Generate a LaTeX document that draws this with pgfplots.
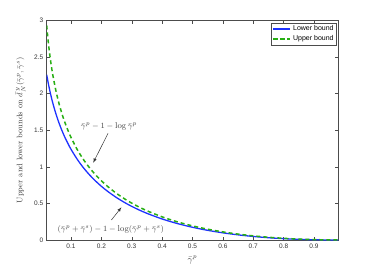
\documentclass[border=0pt]{standalone}
\usepackage{fontspec}
\setsansfont{Liberation Sans}
\usepackage{amsmath}
\usepackage{pgfplots}
\pgfplotsset{compat=1.18}
\definecolor{mblue}{RGB}{30,50,255}
\definecolor{mgreen}{RGB}{40,175,20}
\begin{document}
\begin{tikzpicture}[x=1pt,y=1pt]
\path[use as bounding box] (0,0) rectangle (374,271);
\begin{axis}[
  at={(46.7pt,31pt)}, anchor=south west,
  scale only axis, width=291.6pt, height=219.5pt,
  xmin=0.02, xmax=0.98, ymin=0, ymax=3,
  xtick={0.1,0.2,...,0.9},
  xticklabels={0.1,0.2,0.3,0.4,0.5,0.6,0.7,0.8,0.9},
  ytick={0,0.5,1,1.5,2,2.5,3},
  yticklabels={0,0.5,1,1.5,2,2.5,3},
  tick align=inside, tick pos=both,
  major tick length=3pt,
  axis line style={black!70, line width=0.5pt},
  every tick/.style={black!70, line width=0.4pt},
  ticklabel style={font=\sffamily\fontsize{6.5}{7}\selectfont, text=black!80},
  xlabel={$\bar\gamma^p$},
  ylabel={Upper and lower bounds on $\bar d^{\,y}_N(\bar\gamma^p,\bar\gamma^s)$},
  xlabel style={font=\fontsize{9}{10}\selectfont, text=black!75, yshift=-1pt},
  ylabel style={font=\fontsize{8}{9}\selectfont, text=black!75, yshift=2pt},
  legend style={at={(0.995,0.99)}, anchor=north east, font=\sffamily\fontsize{7}{8}\selectfont,
    draw=black!70, line width=0.4pt, inner sep=1pt, row sep=-1pt,
    legend cell align=left},
  legend image post style={line width=1.5pt},
  clip=true,
]
\addplot[mblue, line width=1.3pt, smooth] coordinates {
(0.02,2.25888)(0.025,2.14609)(0.03,2.04573)(0.035,1.95542)(0.04,1.87341)
(0.05,1.72926)(0.06,1.60573)(0.07,1.49795)(0.08,1.40259)(0.09,1.31727)
(0.10,1.24026)(0.12,1.10611)(0.14,0.99258)(0.16,0.89480)(0.18,0.80944)
(0.20,0.73413)(0.22,0.66712)(0.25,0.57933)(0.28,0.50397)(0.30,0.45943)
(0.32,0.41881)(0.35,0.36425)(0.40,0.28750)(0.45,0.22502)(0.50,0.17393)
(0.55,0.13212)(0.60,0.09804)(0.65,0.07048)(0.70,0.04850)(0.75,0.03136)
(0.80,0.01845)(0.85,0.00926)(0.90,0.00338)(0.95,0.00046)(0.98,0.0)
};
\addlegendentry{Lower bound}
\addplot[mgreen, line width=1.5pt, dash pattern=on 4pt off 3pt, smooth] coordinates {
(0.02,2.93202)(0.025,2.71388)(0.03,2.53656)(0.035,2.38741)(0.04,2.25888)
(0.05,2.04573)(0.06,1.87341)(0.07,1.72926)(0.08,1.60573)(0.09,1.49795)
(0.10,1.40259)(0.12,1.24026)(0.14,1.10611)(0.16,0.99258)(0.18,0.89480)
(0.20,0.80944)(0.22,0.73413)(0.25,0.63629)(0.28,0.55297)(0.30,0.50397)
(0.32,0.45943)(0.35,0.39982)(0.40,0.31629)(0.45,0.24851)(0.50,0.19315)
(0.55,0.14784)(0.60,0.11083)(0.65,0.08078)(0.70,0.05667)(0.75,0.03768)
(0.80,0.02314)(0.85,0.01252)(0.90,0.00536)(0.95,0.00129)(0.98,0.00020)
};
\addlegendentry{Upper bound}
\node[font=\fontsize{8.5}{10}\selectfont, text=black!75] at (axis cs:0.225,1.557) {$\bar\gamma^p-1-\log\bar\gamma^p$};
\draw[-latex, black!80, line width=0.5pt] (axis cs:0.222,1.458) -- (axis cs:0.173,1.056);
\node[font=\fontsize{8.5}{10}\selectfont, text=black!75] at (axis cs:0.231,0.146) {$(\bar\gamma^p+\bar\gamma^s)-1-\log(\bar\gamma^p+\bar\gamma^s)$};
\draw[-latex, black!80, line width=0.5pt] (axis cs:0.233,0.273) -- (axis cs:0.266,0.447);
\end{axis}
\end{tikzpicture}
\end{document}
